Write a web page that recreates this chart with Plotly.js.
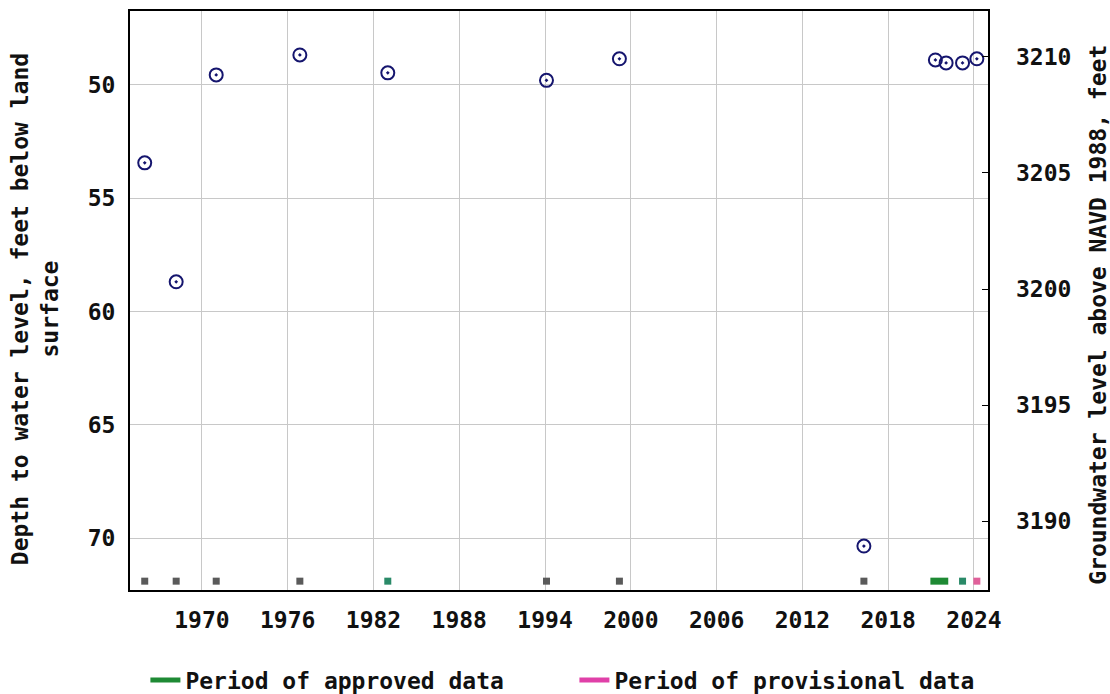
<!DOCTYPE html>
<html>
<head>
<meta charset="utf-8">
<script src="https://cdn.plot.ly/plotly-3.0.1.min.js"></script>
<style>
  html, body { margin: 0; padding: 0; background: #fff; }
  #chart { width: 1110px; height: 694px; }
</style>
</head>
<body>
<div id="chart"></div>
<script>
// Measurement dates (decimal years) and depth to water level (feet below land surface)
const measYears = [1966.0, 1968.2, 1971.0, 1976.85, 1983.0, 1994.1, 1999.2, 2016.3, 2021.3, 2022.05, 2023.2, 2024.2];
const measDepth = [53.44, 58.69, 49.56, 48.68, 49.47, 49.80, 48.85, 70.35, 48.90, 49.03, 49.03, 48.85];

// Approval status markers along the bottom
const approvedGrayYears = [1966.0, 1968.2, 1971.0, 1976.85, 1994.1, 1999.2, 2016.3];
const approvedTealYears = [1983.0, 2023.2];
const approvedBarYears = [2020.95, 2022.2];
const provisionalYears = [2024.2];
const statusDepth = 71.9;

// Axis tick labels
const xTicks = [1970, 1976, 1982, 1988, 1994, 2000, 2006, 2012, 2018, 2024];
const leftTicks = [50, 55, 60, 65, 70];
const rightTicks = [3190, 3195, 3200, 3205, 3210];

const FONT = '"DejaVu Sans Mono", "Liberation Mono", monospace';
const FS = 23;

const traces = [
  {
    x: measYears, y: measDepth, type: 'scatter', mode: 'markers',
    marker: { symbol: 'circle-open-dot', size: 13, color: '#15156e', line: { width: 2, color: '#15156e' } },
    showlegend: false, hoverinfo: 'x+y'
  },
  {
    x: approvedGrayYears, y: approvedGrayYears.map(() => statusDepth), type: 'scatter', mode: 'markers',
    marker: { symbol: 'square', size: 7, color: '#5a5a5a' }, showlegend: false
  },
  {
    x: approvedTealYears, y: approvedTealYears.map(() => statusDepth), type: 'scatter', mode: 'markers',
    marker: { symbol: 'square', size: 7, color: '#2a8a68' }, showlegend: false
  },
  {
    x: approvedBarYears, y: approvedBarYears.map(() => statusDepth), type: 'scatter', mode: 'lines',
    line: { color: '#1e8a34', width: 7 }, showlegend: false
  },
  {
    x: provisionalYears, y: provisionalYears.map(() => statusDepth), type: 'scatter', mode: 'markers',
    marker: { symbol: 'square', size: 7, color: '#e0609a' }, showlegend: false
  },
  {
    x: [null], y: [null], type: 'scatter', mode: 'lines', name: 'Period of approved data',
    line: { color: '#1e8a34', width: 5 }, showlegend: true
  },
  {
    x: [null], y: [null], type: 'scatter', mode: 'lines', name: 'Period of provisional data',
    line: { color: '#e040a8', width: 5 }, showlegend: true
  },
  {
    x: [null], y: [null], yaxis: 'y2', type: 'scatter', mode: 'markers', showlegend: false, hoverinfo: 'skip'
  }
];

const layout = {
  width: 1110, height: 694,
  margin: { l: 130, r: 122, t: 11, b: 104 },
  paper_bgcolor: '#ffffff', plot_bgcolor: '#ffffff',
  font: { family: FONT, size: FS, color: '#111' },
  showlegend: true,
  legend: {
    orientation: 'h', xref: 'container', yref: 'container',
    x: 0.131, xanchor: 'left', y: 0.02, yanchor: 'middle',
    font: { family: FONT, size: FS, color: '#111', weight: 'bold' },
    entrywidth: 384, entrywidthmode: 'pixels',
    bgcolor: 'rgba(0,0,0,0)'
  },
  xaxis: {
    range: [1964.97, 2024.98], tickvals: xTicks, ticktext: xTicks.map(String),
    showgrid: true, gridcolor: '#c8c8c8', gridwidth: 1,
    showline: true, linecolor: '#000', linewidth: 2, mirror: true,
    ticks: '', zeroline: false, ticklabelstandoff: 8,
    tickfont: { family: FONT, size: FS, color: '#111', weight: 'bold' }
  },
  yaxis: {
    range: [72.29, 46.74], tickvals: leftTicks, ticktext: leftTicks.map(String),
    showgrid: true, gridcolor: '#c8c8c8', gridwidth: 1,
    showline: true, linecolor: '#000', linewidth: 2, mirror: true,
    ticks: '', zeroline: false, ticklabelstandoff: 8,
    tickfont: { family: FONT, size: FS, color: '#111', weight: 'bold' }
  },
  yaxis2: {
    overlaying: 'y', side: 'right', range: [3187.03, 3211.98],
    tickvals: rightTicks, ticktext: rightTicks.map(String),
    showgrid: false, zeroline: false, showline: false,
    ticks: 'inside', ticklen: 6, tickcolor: '#000', tickwidth: 1,
    ticklabelstandoff: 27,
    tickfont: { family: FONT, size: FS, color: '#111', weight: 'bold' }
  },
  annotations: [
    {
      text: 'Depth to water level, feet below land<br>surface',
      xref: 'paper', yref: 'paper', x: -0.1107, y: 0.485, xanchor: 'center', yanchor: 'middle',
      textangle: -90, showarrow: false,
      font: { family: FONT, size: FS, color: '#111', weight: 'bold' }
    },
    {
      text: 'Groundwater level above NAVD 1988, feet',
      xref: 'paper', yref: 'paper', x: 1.128, y: 0.475, xanchor: 'center', yanchor: 'middle',
      textangle: -90, showarrow: false,
      font: { family: FONT, size: FS, color: '#111', weight: 'bold' }
    }
  ]
};

Plotly.newPlot('chart', traces, layout, { displayModeBar: false, staticPlot: true });
</script>
</body>
</html>
